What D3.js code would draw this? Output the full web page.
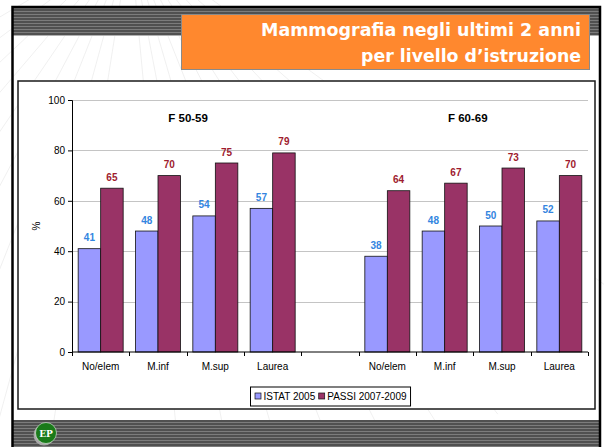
<!DOCTYPE html>
<html>
<head>
<meta charset="utf-8">
<script src="https://cdn.jsdelivr.net/npm/d3@7"></script>
<style>
  body { margin: 0; background: #fff; }
  svg { display: block; }
</style>
</head>
<body>
<div id="chart"></div>
<script>
// data
const groups = ["F 50-59", "F 60-69"];
const levels = ["No/elem", "M.inf", "M.sup", "Laurea"];
const series = ["ISTAT 2005", "PASSI 2007-2009"];
const istat5059 = [41, 48, 54, 57];
const passi5059 = [65, 70, 75, 79];
const istat6069 = [38, 48, 50, 52];
const passi6069 = [64, 67, 73, 70];
const yTicks = [0, 20, 40, 60, 80, 100];
const titleLines = ["Mammografia negli ultimi 2 anni", "per livello d\u2019istruzione"];

const W = 604, H = 447;
const fills = ["#9999ff", "#993366"];
const labelColors = ["#3385e0", "#9e1b2e"];
const font = "Arial, 'Liberation Sans', sans-serif";

// one slot per category, with an empty slot between the two age groups
const groupValues = [[istat5059, passi5059], [istat6069, passi6069]];
const slots = [];
groupValues.forEach((vals, g) => {
  if (g > 0) slots.push({ key: "gap" + g, label: "", g: g, vals: null });
  levels.forEach((lv, i) => {
    slots.push({ key: g + "-" + i, label: lv, g: g, vals: vals.map(s => s[i]) });
  });
});

const svg = d3.select("#chart").append("svg")
  .attr("width", W).attr("height", H);

const defs = svg.append("defs");
const stripes = defs.append("pattern")
  .attr("id", "stripes").attr("patternUnits", "userSpaceOnUse")
  .attr("width", 8).attr("height", 3);
stripes.append("rect").attr("width", 8).attr("height", 3).attr("fill", "#7c7c7c");
stripes.append("rect").attr("width", 8).attr("height", 2).attr("fill", "#505050");

// slide background
svg.append("rect").attr("width", W).attr("height", H).attr("fill", "#fff");

// faint rays behind the chart box
const rays = svg.append("g").attr("stroke", "#ececec").attr("stroke-width", 0.8);
d3.range(16).forEach(i => {
  const a = Math.PI * (0.55 + i * 0.035);
  const cx = 130, cy = -60;
  rays.append("line")
    .attr("x1", cx).attr("y1", cy)
    .attr("x2", cx + Math.cos(a) * 600).attr("y2", cy + Math.sin(a) * 600);
});
d3.range(10).forEach(i => {
  const a = Math.PI * (0.2 + i * 0.03);
  rays.append("line")
    .attr("x1", 130).attr("y1", -60)
    .attr("x2", 130 + Math.cos(a) * 600).attr("y2", -60 + Math.sin(a) * 600);
});

// header and footer bands
svg.append("rect").attr("x", 13).attr("y", 8).attr("width", 587).attr("height", 27).attr("fill", "url(#stripes)");
svg.append("line").attr("x1", 13).attr("x2", 600).attr("y1", 35.5).attr("y2", 35.5).attr("stroke", "#b0b0b0");
svg.append("rect").attr("x", 13).attr("y", 420).attr("width", 587).attr("height", 27).attr("fill", "url(#stripes)");

// slide frame
svg.append("path")
  .attr("d", "M12.5,447 V7 H600 V447")
  .attr("fill", "none").attr("stroke", "#000").attr("stroke-width", 2.5);

// orange title box
svg.append("rect")
  .attr("x", 181.5).attr("y", 14.5).attr("width", 408).attr("height", 55)
  .attr("fill", "#ff882e").attr("stroke", "#8a8a8a").attr("stroke-width", 1);
const titleWidths = [320, 220];
titleLines.forEach((t, i) => {
  svg.append("text")
    .attr("x", 581 - titleWidths[i]).attr("y", 36 + i * 25.5)
    .attr("textLength", titleWidths[i]).attr("lengthAdjust", "spacingAndGlyphs")
    .attr("fill", "#fff")
    .style("font-family", "Tahoma, 'DejaVu Sans', Verdana, sans-serif")
    .style("font-weight", "bold").style("font-size", "17px")
    .text(t);
});

// chart box
svg.append("rect")
  .attr("x", 18).attr("y", 81).attr("width", 577).attr("height", 328)
  .attr("fill", "#fff").attr("stroke", "#1a1a1a").attr("stroke-width", 1.5);

// plot
const plot = { left: 72, right: 588, top: 100, bottom: 352 };
const x = d3.scaleBand().domain(slots.map(d => d.key)).range([plot.left, plot.right]);
const xs = d3.scaleBand().domain(series).range([0, x.bandwidth()]).paddingOuter(0.274);
const y = d3.scaleLinear().domain([0, 100]).range([plot.bottom, plot.top]);

const g = svg.append("g");

// gridlines
g.append("g").selectAll("line").data(yTicks.filter(t => t > 0)).join("line")
  .attr("x1", plot.left).attr("x2", plot.right)
  .attr("y1", d => Math.round(y(d)) + 0.5).attr("y2", d => Math.round(y(d)) + 0.5)
  .attr("stroke", "#c4c4c4");

// bars
const slotG = g.append("g").selectAll("g").data(slots.filter(d => d.vals)).join("g")
  .attr("transform", d => `translate(${x(d.key)},0)`);
slotG.selectAll("rect").data(d => d.vals.map((v, i) => ({ s: series[i], i: i, v: v }))).join("rect")
  .attr("x", d => xs(d.s)).attr("width", xs.bandwidth())
  .attr("y", d => y(d.v)).attr("height", d => y(0) - y(d.v))
  .attr("fill", d => fills[d.i]).attr("stroke", "#111").attr("stroke-width", 0.8);
slotG.selectAll("text").data(d => d.vals.map((v, i) => ({ s: series[i], i: i, v: v }))).join("text")
  .attr("x", d => xs(d.s) + xs.bandwidth() / 2).attr("y", d => y(d.v) - 7.5)
  .attr("text-anchor", "middle").attr("fill", d => labelColors[d.i])
  .style("font-family", font).style("font-weight", "bold").style("font-size", "10px")
  .text(d => d3.format(".0f")(d.v));

// y axis
const yAxis = g.append("g").attr("transform", `translate(${plot.left},0)`)
  .call(d3.axisLeft(y).tickValues(yTicks).tickSize(4).tickPadding(3));
yAxis.select(".domain").attr("stroke", "#000");
yAxis.selectAll("line").attr("stroke", "#000");
yAxis.selectAll("text").style("font-family", font).style("font-size", "10px").attr("fill", "#000");

// x axis: ticks between categories, labels centred
const xAxisG = g.append("g").attr("transform", `translate(0,${plot.bottom})`);
xAxisG.append("line").attr("x1", plot.left).attr("x2", plot.right).attr("stroke", "#000");
const bounds = slots.map(d => x(d.key)).concat([plot.right]);
xAxisG.selectAll("line.tick").data(bounds).join("line").attr("class", "tick")
  .attr("x1", d => Math.round(d) + 0.5).attr("x2", d => Math.round(d) + 0.5)
  .attr("y1", 0).attr("y2", 4).attr("stroke", "#000");
xAxisG.selectAll("text").data(slots).join("text")
  .attr("x", d => x(d.key) + x.bandwidth() / 2).attr("y", 18)
  .attr("text-anchor", "middle").attr("fill", "#000")
  .style("font-family", font).style("font-size", "10px")
  .text(d => d.label);

// axis title
g.append("text")
  .attr("transform", `translate(40,${(plot.top + plot.bottom) / 2}) rotate(-90)`)
  .attr("text-anchor", "middle")
  .style("font-family", font).style("font-size", "10px")
  .text("%");

// group titles
const groupTitleX = [0.225, 0.767];
groups.forEach((t, i) => {
  g.append("text")
    .attr("x", plot.left + groupTitleX[i] * (plot.right - plot.left)).attr("y", 122)
    .attr("text-anchor", "middle")
    .style("font-family", font).style("font-weight", "bold").style("font-size", "11.5px")
    .text(t);
});

// legend
const legend = svg.append("g");
const legBox = legend.append("rect").attr("fill", "#fff").attr("stroke", "#000").attr("stroke-width", 1);
let lx = 0;
const items = [];
series.forEach((s, i) => {
  const it = legend.append("g").attr("transform", `translate(${lx},0)`);
  it.append("rect").attr("x", 0.5).attr("y", -6.5).attr("width", 6).attr("height", 6)
    .attr("fill", fills[i]).attr("stroke", "#111").attr("stroke-width", 0.7);
  const tx = it.append("text").attr("x", 9).attr("y", 0)
    .style("font-family", font).style("font-size", "10px").text(s);
  lx += 9 + tx.node().getComputedTextLength() + 3;
  items.push(it);
});
const legW = lx - 3 + 8;
const legX = (plot.left + plot.right) / 2 - legW / 2;
legBox.attr("x", -4).attr("y", -12.5).attr("width", legW).attr("height", 19);
legend.attr("transform", `translate(${Math.round(legX + 4) + 0.5},399.5)`);

// logo in footer
const logo = svg.append("g").attr("transform", "translate(46,433)");
logo.append("circle").attr("cx", -2).attr("cy", 2).attr("r", 10.5).attr("fill", "#a8a8a8");
logo.append("circle").attr("r", 10.5).attr("fill", "#1a7a1a").attr("stroke", "#e8f0e8").attr("stroke-width", 0.6);
logo.append("text").attr("y", 3.5).attr("text-anchor", "middle").attr("fill", "#fff")
  .style("font-family", "'DejaVu Serif', serif").style("font-weight", "bold").style("font-size", "9px")
  .text("EP");
</script>
</body>
</html>
